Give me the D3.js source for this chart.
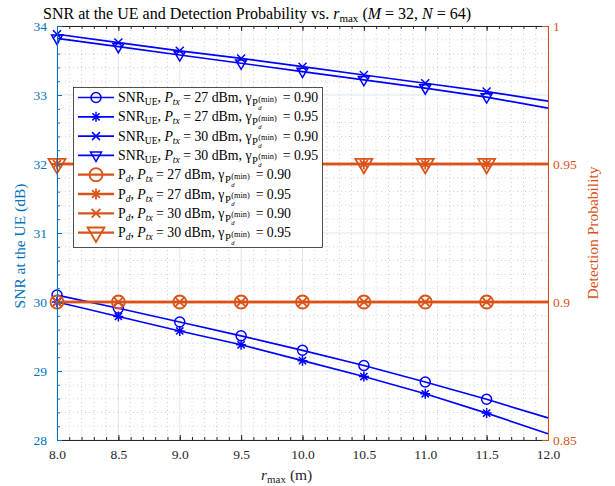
<!DOCTYPE html>
<html><head><meta charset="utf-8">
<script src="https://cdn.jsdelivr.net/npm/d3@7"></script>
<style>body{margin:0;background:#fff} svg{display:block} svg text{font-family:"Liberation Serif","DejaVu Serif",serif !important; white-space:pre}</style>
</head><body><svg id="c" width="615" height="486" font-family="Liberation Serif, DejaVu Serif, serif"></svg>
<script>
// ---- data ----
const rmax = [8.0, 8.5, 9.0, 9.5, 10.0, 10.5, 11.0, 11.5, 12.0];
const snr27_090 = [30.10, 29.91, 29.71, 29.51, 29.30, 29.08, 28.84, 28.59, 28.32];
const snr27_095 = [30.00, 29.79, 29.58, 29.38, 29.15, 28.92, 28.67, 28.39, 28.09];
const snr30_090 = [33.88, 33.76, 33.64, 33.53, 33.41, 33.29, 33.17, 33.05, 32.91];
const snr30_095 = [33.82, 33.70, 33.58, 33.46, 33.34, 33.22, 33.10, 32.97, 32.81];
const pd27_090 = [0.90, 0.90, 0.90, 0.90, 0.90, 0.90, 0.90, 0.90, 0.90];
const pd27_095 = [0.95, 0.95, 0.95, 0.95, 0.95, 0.95, 0.95, 0.95, 0.95];
const pd30_090 = [0.90, 0.90, 0.90, 0.90, 0.90, 0.90, 0.90, 0.90, 0.90];
const pd30_095 = [0.95, 0.95, 0.95, 0.95, 0.95, 0.95, 0.95, 0.95, 0.95];
const xTicks = [8.0, 8.5, 9.0, 9.5, 10.0, 10.5, 11.0, 11.5, 12.0];
const yLeftTicks = [28, 29, 30, 31, 32, 33, 34];
const yRightTicks = [0.85, 0.9, 0.95, 1];
const ptxLabels = ["27", "27", "30", "30"];
const gammaLabels = ["0.90", "0.95", "0.90", "0.95"];

// ---- layout ----
const FONT = "Liberation Serif, DejaVu Serif, serif";
const L = 57, R = 548, T = 26, B = 440;
const BLUE = "#0000FF", ORANGE = "#D95319", AXB = "#0072BD", AXO = "#D95319", DARK = "#262626";
const svg = d3.select("#c");
const x = d3.scaleLinear().domain([8, 12]).range([L, R]);
const yL = d3.scaleLinear().domain([28, 34]).range([B, T]);
const yR = d3.scaleLinear().domain([0.85, 1]).range([B, T]);

// ---- grid ----
const grid = svg.append("g");
const near = (a, arr) => arr.some(b => Math.abs(a - b) < 1e-6);
d3.range(8, 12.0001, 0.1).filter(v => !near(v, xTicks)).forEach(v => {
  grid.append("line").attr("x1", x(v)).attr("x2", x(v)).attr("y1", T).attr("y2", B)
    .attr("stroke", "#cfcfcf").attr("stroke-width", 1).attr("stroke-dasharray", "1,3");
});
d3.range(28, 34.0001, 0.2).filter(v => !near(v, yLeftTicks)).forEach(v => {
  grid.append("line").attr("x1", L).attr("x2", R).attr("y1", yL(v)).attr("y2", yL(v))
    .attr("stroke", "#c3d8ea").attr("stroke-width", 1).attr("stroke-dasharray", "1,3");
});
xTicks.forEach(v => grid.append("line").attr("x1", x(v)).attr("x2", x(v)).attr("y1", T).attr("y2", B)
  .attr("stroke", "#e4e4e4").attr("stroke-width", 1));
yLeftTicks.forEach(v => grid.append("line").attr("x1", L).attr("x2", R).attr("y1", yL(v)).attr("y2", yL(v))
  .attr("stroke", "#dbe7f2").attr("stroke-width", 1));

// ---- markers ----
function marker(g, type, cx, cy, color, s, sw) {
  if (type === "circle") {
    g.append("circle").attr("cx", cx).attr("cy", cy).attr("r", s).attr("fill", "none").attr("stroke", color).attr("stroke-width", sw);
  } else if (type === "star") {
    const d = s * 0.72;
    g.append("path").attr("d", `M${cx - s},${cy}H${cx + s}M${cx},${cy - s}V${cy + s}M${cx - d},${cy - d}L${cx + d},${cy + d}M${cx - d},${cy + d}L${cx + d},${cy - d}`)
      .attr("stroke", color).attr("stroke-width", sw).attr("fill", "none");
  } else if (type === "x") {
    g.append("path").attr("d", `M${cx - s},${cy - s}L${cx + s},${cy + s}M${cx - s},${cy + s}L${cx + s},${cy - s}`)
      .attr("stroke", color).attr("stroke-width", sw).attr("fill", "none");
  } else if (type === "tri") {
    g.append("path").attr("d", `M${cx - s},${cy - s * 0.6}L${cx + s},${cy - s * 0.6}L${cx},${cy + s * 1.1}Z`)
      .attr("stroke", color).attr("stroke-width", sw).attr("fill", "none").attr("stroke-linejoin", "miter");
  }
}

const series = [
  { vals: snr27_090, y: yL, color: BLUE, m: "circle", ms: 5, lw: 1.7, msw: 1.5 },
  { vals: snr27_095, y: yL, color: BLUE, m: "star", ms: 5, lw: 1.7, msw: 1.5 },
  { vals: snr30_090, y: yL, color: BLUE, m: "x", ms: 4, lw: 1.7, msw: 1.5 },
  { vals: snr30_095, y: yL, color: BLUE, m: "tri", ms: 5.5, lw: 1.7, msw: 1.5 },
  { vals: pd27_090, y: yR, color: ORANGE, m: "circle", ms: 6.5, lw: 2.3, msw: 1.8 },
  { vals: pd27_095, y: yR, color: ORANGE, m: "star", ms: 5.5, lw: 2.3, msw: 1.8 },
  { vals: pd30_090, y: yR, color: ORANGE, m: "x", ms: 4.3, lw: 2.3, msw: 1.8 },
  { vals: pd30_095, y: yR, color: ORANGE, m: "tri", ms: 8.5, lw: 2.3, msw: 1.8 }
];

const plot = svg.append("g");
series.forEach(s => {
  const line = d3.line().x((d, i) => x(rmax[i])).y(d => s.y(d));
  plot.append("path").datum(s.vals).attr("d", line).attr("fill", "none")
    .attr("stroke", s.color).attr("stroke-width", s.lw);
  s.vals.forEach((v, i) => { if (i < rmax.length - 1) marker(plot, s.m, x(rmax[i]), s.y(v), s.color, s.ms, s.msw); });
});

// ---- axes ----
function styleAxis(g, color, labelColor) {
  g.attr("font-family", FONT);
  g.select(".domain").attr("stroke", color).attr("stroke-width", 1);
  g.selectAll(".tick line").attr("stroke", color).attr("stroke-width", 1);
  g.selectAll(".tick text").attr("fill", labelColor).attr("font-size", 13.5).attr("font-family", FONT);
}
const minorX = d3.range(8, 12.0001, 0.1);
const minorY = d3.range(28, 34.0001, 0.2);
let g;
g = svg.append("g").attr("transform", `translate(0,${B})`).call(d3.axisBottom(x).tickValues(minorX).tickSize(-3).tickFormat("").tickSizeOuter(0)); styleAxis(g, DARK, DARK);
g = svg.append("g").attr("transform", `translate(0,${T})`).call(d3.axisTop(x).tickValues(minorX).tickSize(-3).tickFormat("").tickSizeOuter(0)); styleAxis(g, DARK, DARK);
g = svg.append("g").attr("transform", `translate(0,${B})`).call(d3.axisBottom(x).tickValues(xTicks).tickSize(-5).tickPadding(9).tickFormat(d3.format(".1f")).tickSizeOuter(0)); styleAxis(g, DARK, DARK);
g = svg.append("g").attr("transform", `translate(0,${T})`).call(d3.axisTop(x).tickValues(xTicks).tickSize(-5).tickFormat("").tickSizeOuter(0)); styleAxis(g, DARK, DARK);
g = svg.append("g").attr("transform", `translate(${L},0)`).call(d3.axisLeft(yL).tickValues(minorY).tickSize(-3).tickFormat("").tickSizeOuter(0)); styleAxis(g, AXB, AXB);
g = svg.append("g").attr("transform", `translate(${L},0)`).call(d3.axisLeft(yL).tickValues(yLeftTicks).tickSize(-5).tickPadding(10).tickFormat(d3.format("d")).tickSizeOuter(0)); styleAxis(g, AXB, AXB);
g = svg.append("g").attr("transform", `translate(${R},0)`).call(d3.axisRight(yR).tickValues(yRightTicks).tickSize(-6).tickPadding(5).tickFormat(d => String(+d)).tickSizeOuter(0)); styleAxis(g, AXO, AXO);

// ---- rich text helper ----
function rich(parent, x0, y0, parts, fill) {
  const grp = parent.append("g");
  let cx = x0, lastStart = x0;
  parts.forEach(p => {
    const sx = (p.under ? lastStart : cx) + (p.dx || 0);
    const t = grp.append("text").attr("x", sx).attr("y", y0 + (p.dy || 0)).attr("font-size", p.fs)
      .attr("font-family", FONT).attr("fill", fill).attr("xml:space", "preserve").text(p.t);
    if (p.it) t.attr("font-style", "italic");
    const w = t.node().getComputedTextLength();
    if (p.under) cx = Math.max(cx, sx + w); else { lastStart = sx; cx = sx + w; }
  });
  return { grp, width: cx - x0 };
}

// title
const TF = 16, TS = 11;
rich(svg, 43, 19, [
  { t: "SNR at the UE and Detection Probability vs. ", fs: TF },
  { t: "r", fs: TF, it: true }, { t: "max", fs: TS, dy: 3 },
  { t: " (", fs: TF }, { t: "M", fs: TF, it: true }, { t: " = 32, ", fs: TF },
  { t: "N", fs: TF, it: true }, { t: " = 64)", fs: TF }
], "#000");

// x label
rich(svg, 261, 480, [{ t: "r", fs: 15.5, it: true }, { t: "max", fs: 11, dy: 3 }, { t: " (m)", fs: 15.5 }], DARK);

// y labels
svg.append("text").attr("transform", `translate(25,246) rotate(-90)`).attr("text-anchor", "middle")
  .attr("font-family", FONT).attr("font-size", 15.5).attr("fill", AXB).text("SNR at the UE (dB)");
svg.append("text").attr("transform", `translate(598,233) rotate(-90)`).attr("text-anchor", "middle")
  .attr("font-family", FONT).attr("font-size", 15.5).attr("fill", AXO).text("Detection Probability");

// ---- legend ----
const lg = svg.append("g");
lg.append("rect").attr("x", 73.5).attr("y", 87.5).attr("width", 249).attr("height", 160)
  .attr("fill", "#fff").attr("stroke", DARK).attr("stroke-width", 0.8);
series.forEach((s, i) => {
  const cy = 97.5 + i * 19.3;
  lg.append("line").attr("x1", 78).attr("x2", 114).attr("y1", cy).attr("y2", cy).attr("stroke", s.color).attr("stroke-width", s.lw);
  marker(lg, s.m, 96, cy, s.color, s.ms, s.msw);
  const k = i % 4;
  const head = i < 4
    ? [{ t: "SNR", fs: 13.8 }, { t: "UE", fs: 9.5, dy: 3 }]
    : [{ t: "P", fs: 13.8 }, { t: "d", fs: 9.5, dy: 3, it: true }];
  const parts = head.concat([
    { t: ", ", fs: 13.8 }, { t: "P", fs: 13.8, it: true }, { t: "tx", fs: 9.5, dy: 3, it: true },
    { t: " = " + ptxLabels[k] + " dBm, γ", fs: 13.8 },
    { t: "P", fs: 10.5, dy: 4, dx: 0.5 }, { t: "(min)", fs: 8.3, dy: -0.5, dx: 0.5 }, { t: "d", fs: 6.5, dy: 7.5, it: true, under: true },
    { t: " = " + gammaLabels[k], fs: 13.8, dx: 2.5 }
  ]);
  rich(lg, 118, cy + 4.5, parts, "#000");
});
</script></body></html>
